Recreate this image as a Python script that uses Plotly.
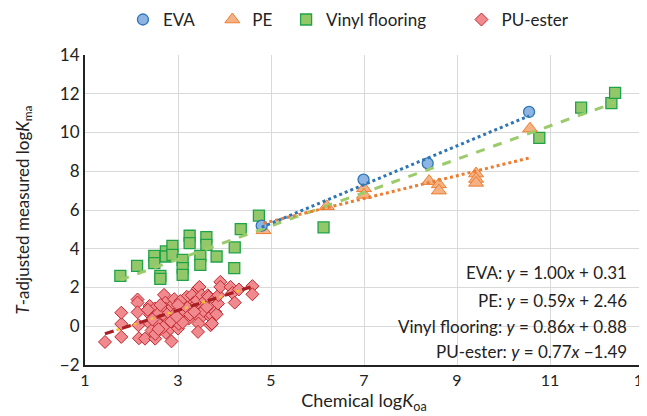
import plotly.graph_objects as go

# ---------------- data ----------------
eva_x = [4.80, 6.99, 8.37, 10.55]
eva_y = [5.19, 7.57, 8.41, 11.06]

pe_x = [4.84, 6.20, 7.00, 7.00, 8.40, 8.61, 8.61, 9.41, 9.41, 9.41, 10.57]
pe_y = [4.95, 6.19, 7.12, 6.78, 7.49, 7.32, 7.00, 7.88, 7.60, 7.40, 10.20]

vinyl_x = [1.76, 2.12, 2.49, 2.49, 2.62, 2.62, 2.74, 2.74, 2.88, 2.88, 3.10, 3.10, 3.10,
           3.25, 3.25, 3.48, 3.48, 3.61, 3.61, 3.83, 4.22, 4.21, 4.35, 4.74, 6.13,
           10.77, 11.67, 12.32, 12.40]
vinyl_y = [2.60, 3.12, 3.63, 3.26, 2.60, 2.45, 3.86, 3.60, 4.15, 3.68, 3.43, 3.00, 2.65,
           4.67, 4.29, 3.63, 3.17, 4.60, 4.20, 3.60, 4.07, 3.00, 5.01, 5.71, 5.10,
           9.72, 11.28, 11.52, 12.05]

pu_x = [1.43, 1.78, 1.78, 1.78, 2.13, 2.13, 2.13, 2.15, 2.16, 2.29, 2.39, 2.40, 2.40, 2.43,
        2.51, 2.51, 2.50, 2.58, 2.62, 2.66, 2.70, 2.73, 2.74, 2.74, 2.74, 2.78, 2.80, 2.84,
        2.86, 2.88, 2.91, 2.94, 2.96, 3.00, 3.00, 3.02, 3.05, 3.09, 3.12, 3.15, 3.19, 3.16,
        3.23, 3.29, 3.30, 3.33, 3.37, 3.41, 3.43, 3.46, 3.48, 3.48, 3.44, 3.43, 3.51, 3.55,
        3.59, 3.62, 3.64, 3.66, 3.70, 3.70, 3.73, 3.73, 3.78, 3.80, 3.83, 3.86, 3.87, 3.91,
        3.91, 4.13, 4.17, 4.22, 4.31, 4.60, 4.60, 2.55, 2.62, 2.68, 2.85, 2.92, 3.05, 3.10,
        3.20, 3.26, 3.35, 2.45, 2.35, 2.58, 3.00, 2.97]
pu_y = [-0.81, -0.55, 0.12, 0.70, 1.38, 1.22, 0.72, 0.05, -0.62, -0.64, 1.05, 0.60, 0.12, -0.22,
        -0.64, -0.40, 0.92, 0.66, 0.30, 0.05, 1.62, 1.22, 0.90, 0.48, -0.34, 0.20, 0.70, -0.12,
        -0.78, 1.00, 1.17, 0.66, 0.40, 0.31, -0.12, 0.12, 0.85, 1.00, 1.34, 0.55, 1.52, 0.74,
        0.40, 0.91, 1.60, 1.20, 1.09, 1.34, 1.95, 2.03, 0.57, 0.40, 0.14, -0.29, 1.60, 0.80,
        1.34, 1.00, 1.60, 1.52, 0.48, 0.05, 0.57, 0.14, 1.38, 0.74, 0.62, 1.17, 1.60, 2.29,
        2.03, 2.03, 1.72, 1.22, 1.90, 2.07, 1.65, 0.20, 1.10, -0.05, 0.25, 1.40, 1.30, 0.20,
        0.95, 0.60, 0.75, 0.35, 0.85, -0.15, 1.10, 0.50]

series_names = ["EVA", "PE", "Vinyl flooring", "PU-ester"]
slopes = [1.00, 0.59, 0.86, 0.77]
intercepts = [0.31, 2.46, 0.88, -1.49]
equation_labels = [
    "EVA: <i>y</i> = 1.00<i>x</i> + 0.31",
    "PE: <i>y</i> = 0.59<i>x</i> + 2.46",
    "Vinyl flooring: <i>y</i> = 0.86<i>x</i> + 0.88",
    "PU-ester: <i>y</i> = 0.77<i>x</i> \u22121.49",
]
x_ticks = [1, 3, 5, 7, 9, 11, 13]
y_ticks = [-2, 0, 2, 4, 6, 8, 10, 12, 14]
y_tick_text = ["\u22122", "0", "2", "4", "6", "8", "10", "12", "14"]

FONT = "Lato"
NB = "\u00a0"
legend_pad = [3, 2, 7, 0]  # trailing non-breaking spaces to mimic legend spacing

fig = go.Figure()

xs = [eva_x, pe_x, vinyl_x, pu_x]
ys = [eva_y, pe_y, vinyl_y, pu_y]

marker_styles = [
    dict(symbol="circle", size=11, color="#8DB4E2", line=dict(color="#2E75B6", width=1.3)),
    dict(symbol="triangle-up", size=13, color="#F4B183", line=dict(color="#ED7D31", width=1)),
    dict(symbol="square", size=11, color="#92C86A", line=dict(color="#1FA34A", width=1.3)),
    dict(symbol="diamond", size=10, color="#F08A8E", line=dict(color="#C0282F", width=1)),
]
order = [2, 3, 1, 0]
for i in order:
    fig.add_trace(go.Scatter(x=xs[i], y=ys[i], mode="markers", name=series_names[i] + NB * legend_pad[i],
                             marker=marker_styles[i], legendrank=i + 1))

# trendlines (drawn on top of the markers)
line_styles = [
    dict(color="#2E75B6", width=3, dash="dot"),
    dict(color="#ED7D31", width=3, dash="dot"),
    dict(color="#9BCB6B", width=3, dash="dash"),
    dict(color="#A81E26", width=3, dash="dash"),
]
for i in [2, 3, 1, 0]:
    x0, x1 = min(xs[i]), max(xs[i])
    lx = [x0, x1]
    ly = [slopes[i] * x0 + intercepts[i], slopes[i] * x1 + intercepts[i]]
    if i == 3:
        fig.add_trace(go.Scatter(x=lx, y=ly, mode="lines", line=dict(color="#F2C12E", width=2.5, dash="dot"),
                                 showlegend=False, hoverinfo="skip"))
    fig.add_trace(go.Scatter(x=lx, y=ly, mode="lines", line=line_styles[i], showlegend=False, hoverinfo="skip"))

eq_y = [2.78, 1.34, -0.03, -1.32]
for lab, yy in zip(equation_labels, eq_y):
    fig.add_annotation(x=12.7, y=yy, xref="x", yref="y", text=lab, showarrow=False,
                       xanchor="right", yanchor="middle",
                       font=dict(family=FONT, size=17, color="#222222"))

fig.update_layout(
    width=647, height=416,
    margin=dict(l=77, r=12, t=47, b=59, autoexpand=False),
    paper_bgcolor="white", plot_bgcolor="white",
    font=dict(family=FONT, size=15, color="#222222"),
    legend=dict(orientation="h", x=0.068, xanchor="left", y=1.113, yanchor="middle",
                font=dict(family=FONT, size=17, color="#222222"),
                itemsizing="trace", traceorder="normal", itemwidth=30),
    showlegend=True,
)
fig.update_xaxes(range=[1, 13], tickvals=x_ticks, showgrid=True, gridcolor="#D9D9D9", gridwidth=1.2,
                 zeroline=False, showline=True, linecolor="#222222", linewidth=2,
                 ticks="", ticklabeloverflow="allow", tickfont=dict(family=FONT, size=16, color="#222222"),
                 title=dict(text="Chemical log<i>K</i><sub>oa</sub>", standoff=6,
                            font=dict(family=FONT, size=18, color="#222222")))
fig.update_yaxes(range=[-2, 14], tickvals=y_ticks, ticktext=y_tick_text,
                 showgrid=True, gridcolor="#D9D9D9", gridwidth=1.2,
                 zeroline=False, showline=True, linecolor="#222222", linewidth=2, mirror=True,
                 ticks="", tickfont=dict(family=FONT, size=17, color="#222222"),
                 title=dict(text="<i>T</i>-adjusted measured log<i>K</i><sub>ma</sub>", standoff=26,
                            font=dict(family=FONT, size=17, color="#222222")))

fig.write_html("out.html")
